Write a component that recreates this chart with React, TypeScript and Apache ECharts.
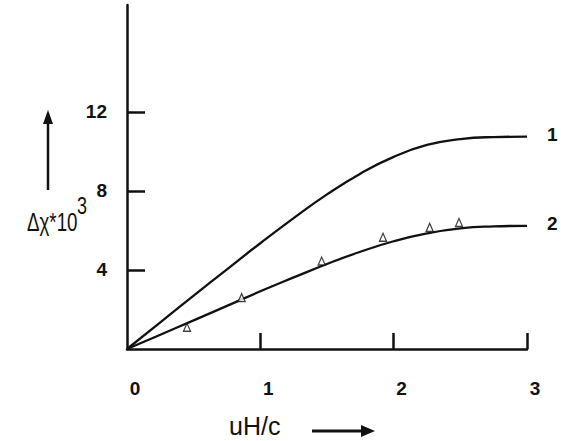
import React, { useEffect, useRef } from "react";
import * as echarts from "echarts";

const xValues = [0, 0.25, 0.5, 0.75, 1, 1.25, 1.5, 1.75, 2, 2.25, 2.5, 2.75, 3];
const curve1 = [0, 1.35, 2.7, 4.03, 5.35, 6.62, 7.82, 8.87, 9.72, 10.32, 10.62, 10.72, 10.74];
const curve2 = [0, 0.72, 1.45, 2.18, 2.92, 3.62, 4.3, 4.92, 5.45, 5.85, 6.1, 6.2, 6.23];
const triX = [0.45, 0.86, 1.46, 1.92, 2.27, 2.49];
const triY = [1.1, 2.6, 4.45, 5.65, 6.15, 6.4];
const xTicks = [1, 2, 3];
const xTickLabels = [0, 1, 2, 3];
const yTicks = [4, 8, 12];
const seriesNames = ["1", "2"];

const FONT = "Liberation Sans, Arial, sans-serif";

export default function App() {
  const ref = useRef<HTMLDivElement>(null);
  useEffect(() => {
    if (!ref.current) return;
    const chart = echarts.init(ref.current, undefined, { renderer: "svg" });
    const lineStyle = { color: "#111", width: 2.3 };
    const endLabel = (t: string) => ({
      show: true,
      formatter: t,
      distance: 20,
      offset: [0, -2],
      fontSize: 19,
      fontWeight: "bold",
      color: "#111",
      fontFamily: FONT,
    });
    chart.setOption({
      animation: false,
      backgroundColor: "#fff",
      grid: { left: 127, right: 34, top: 5, bottom: 92 },
      xAxis: {
        type: "value",
        min: 0,
        max: 3,
        axisLine: { show: true, lineStyle: { color: "#111", width: 2.5 } },
        axisTick: { show: true, inside: true, length: 16, customValues: xTicks, lineStyle: { color: "#111", width: 2.5 } },
        axisLabel: {
          customValues: xTickLabels,
          margin: 30,
          color: "#111",
          fontSize: 19,
          fontWeight: "bold",
          fontFamily: FONT,
          padding: [0, 0, 0, 16],
        },
        splitLine: { show: false },
      },
      yAxis: {
        type: "value",
        min: 0,
        max: 17.4,
        axisLine: { show: true, lineStyle: { color: "#111", width: 2.5 } },
        axisTick: { show: true, inside: true, length: 18, customValues: yTicks, lineStyle: { color: "#111", width: 2.5 } },
        axisLabel: {
          customValues: yTicks,
          margin: 20,
          color: "#111",
          fontSize: 19,
          fontWeight: "bold",
          fontFamily: FONT,
          padding: [0, 0, 18, 0],
        },
        splitLine: { show: false },
      },
      series: [
        {
          type: "line",
          name: seriesNames[0],
          data: xValues.map((x, i) => [x, curve1[i]]),
          smooth: true,
          showSymbol: false,
          lineStyle,
          endLabel: endLabel(seriesNames[0]),
        },
        {
          type: "line",
          name: seriesNames[1],
          data: xValues.map((x, i) => [x, curve2[i]]),
          smooth: true,
          showSymbol: false,
          lineStyle,
          endLabel: endLabel(seriesNames[1]),
        },
        {
          type: "scatter",
          data: triX.map((x, i) => [x, triY[i]]),
          symbol: "triangle",
          symbolSize: [7, 8],
          itemStyle: { color: "#fff", borderColor: "#111", borderWidth: 1.3 },
          z: 5,
        },
      ],
      graphic: [
        {
          type: "text",
          x: 27,
          y: 223,
          scaleX: 0.75,
          style: {
            text: "Δχ*10",
            fontSize: 25,
            fontFamily: FONT,
            fill: "#111",
            verticalAlign: "middle",
          },
        },
        {
          type: "text",
          x: 77,
          y: 206,
          scaleX: 0.75,
          style: {
            text: "3",
            fontSize: 24,
            fontFamily: FONT,
            fill: "#111",
            verticalAlign: "middle",
          },
        },
        { type: "line", shape: { x1: 48, y1: 190, x2: 48, y2: 120 }, style: { stroke: "#111", lineWidth: 2.5 } },
        { type: "polygon", shape: { points: [[48, 110], [43, 124], [53, 124]] }, style: { fill: "#111" } },
        {
          type: "text",
          x: 229,
          y: 426,
          style: { text: "uH/c", fontSize: 25, fontFamily: FONT, fill: "#111", verticalAlign: "middle" },
        },
        { type: "line", shape: { x1: 312, y1: 431, x2: 364, y2: 431 }, style: { stroke: "#111", lineWidth: 3 } },
        { type: "polygon", shape: { points: [[375, 431], [361, 425], [361, 437]] }, style: { fill: "#111" } },
      ],
    });
    return () => chart.dispose();
  }, []);
  return <div ref={ref} style={{ width: 561, height: 441, position: "absolute", left: 0, top: 0 }} />;
}
